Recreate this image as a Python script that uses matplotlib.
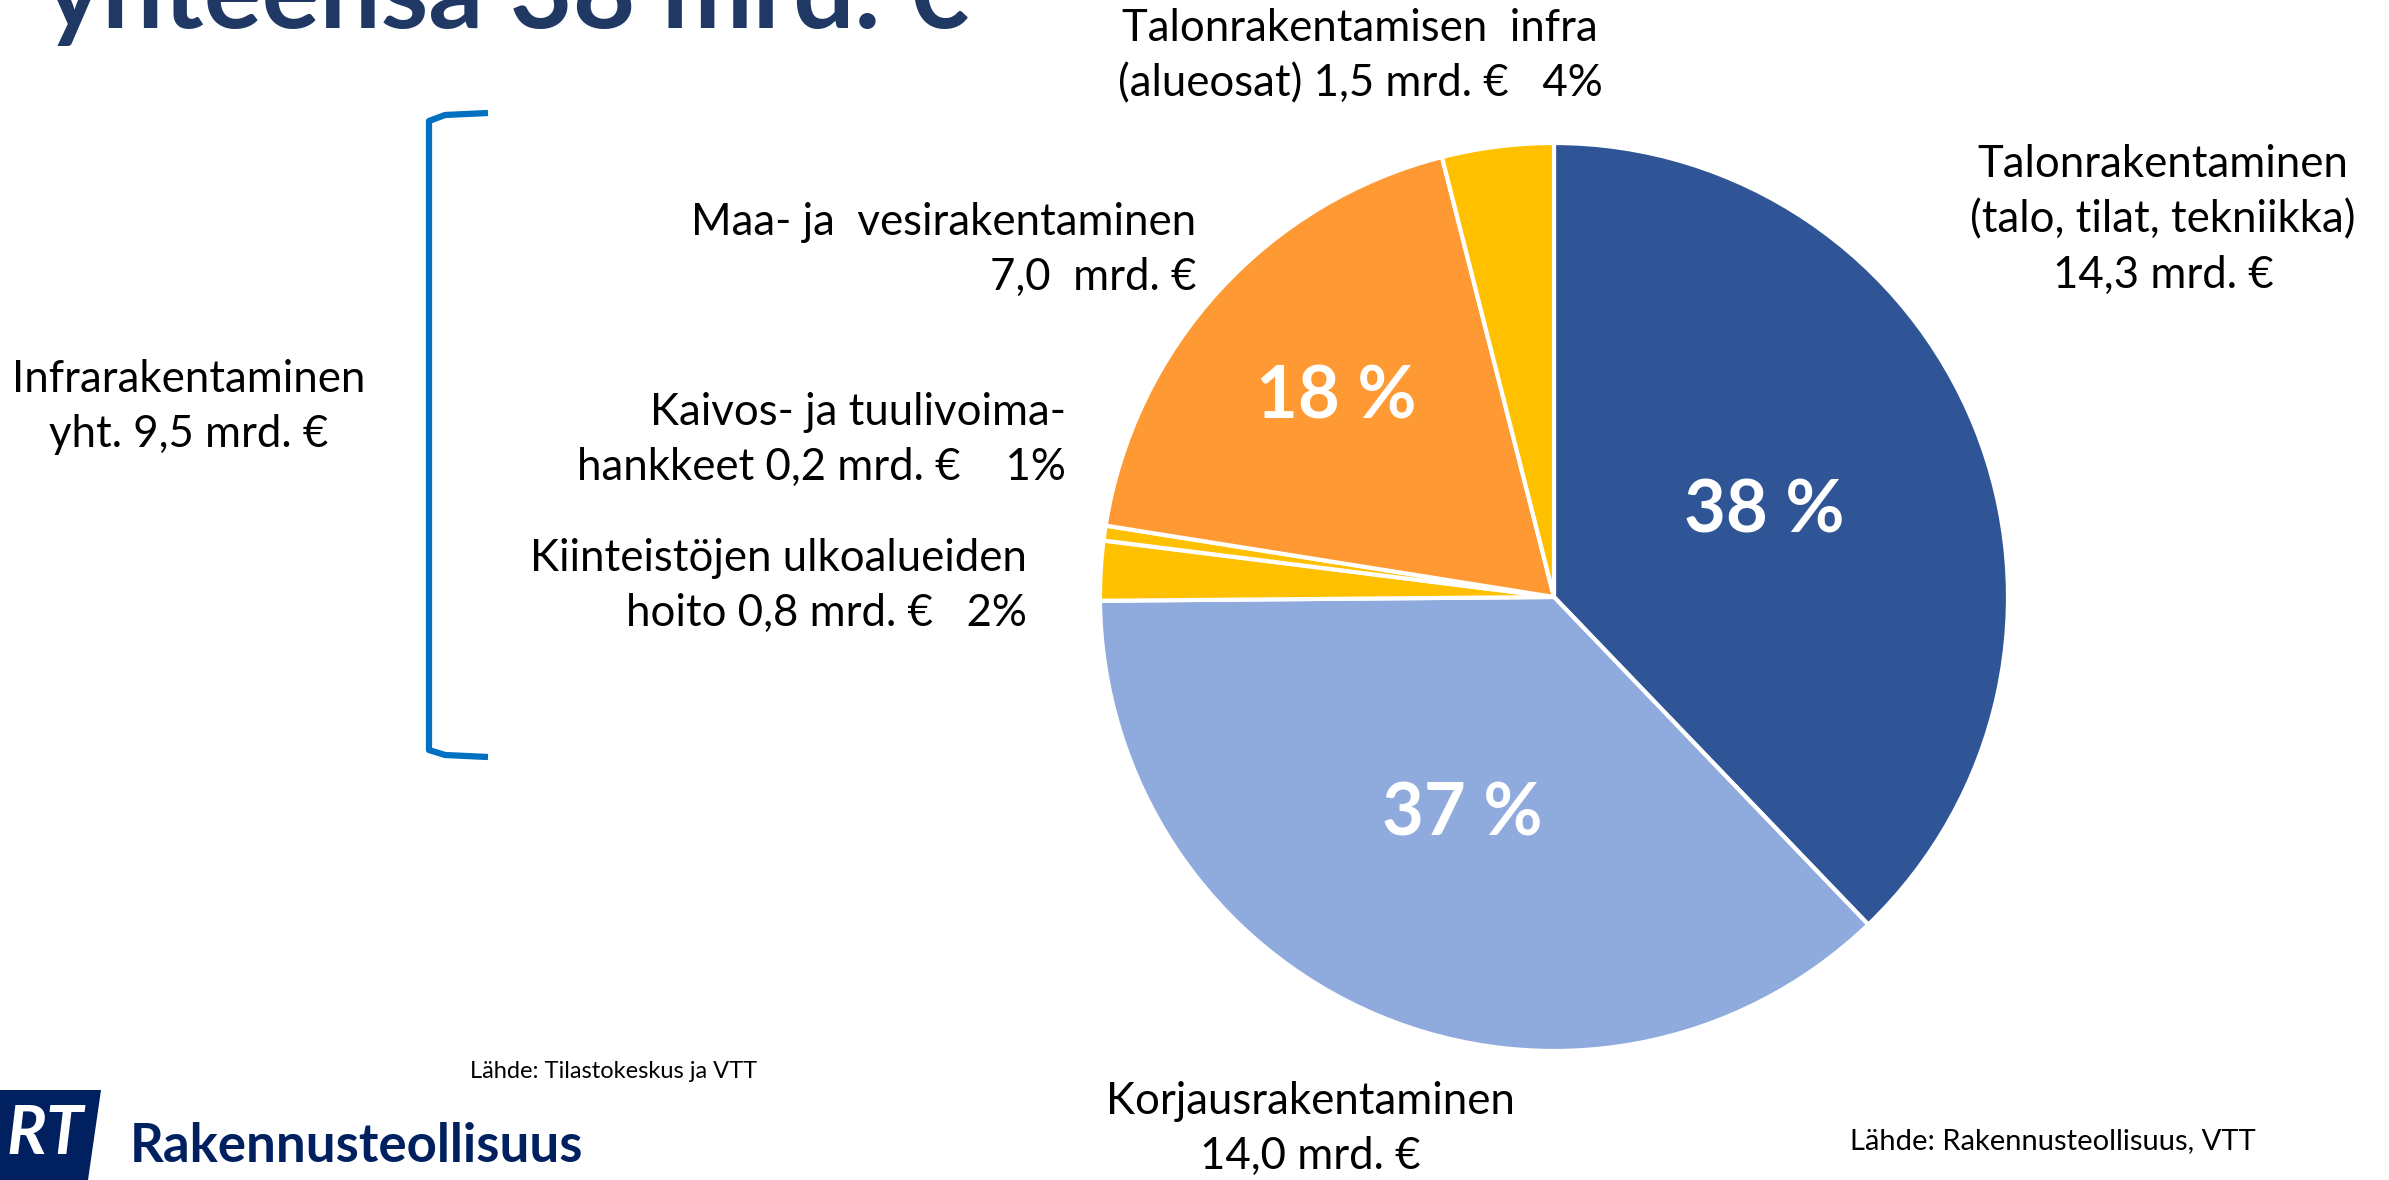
import matplotlib
matplotlib.use("Agg")
import matplotlib.pyplot as plt
import numpy as np
from matplotlib.patches import Polygon
from matplotlib.lines import Line2D

W, H = 2389, 1180
plt.rcParams['font.family'] = ['Lato', 'DejaVu Sans']

# data (mrd. €), clockwise from 12 o'clock
segments = ["Talonrakentaminen", "Korjausrakentaminen", "Kiinteistöjen ulkoalueiden hoito",
            "Kaivos- ja tuulivoimahankkeet", "Maa- ja vesirakentaminen", "Talonrakentamisen infra"]
values = [14.3, 14.0, 0.8, 0.2, 7.0, 1.5]
colors = ["#2F5597", "#8FAADC", "#FFC000", "#FFC000", "#FF9933", "#FFC000"]
pct_labels = ["38 %", "37 %", "", "", "18 %", ""]
pct_radius = [0.50, 0.52, 0, 0, 0.65, 0]

side_labels = [
    ("Talonrakentaminen\n(talo, tilat, tekniikka)\n14,3 mrd. €", 2163, 220, "center"),
    ("Korjausrakentaminen\n14,0 mrd. €", 1310, 1129, "center"),
    ("Kiinteistöjen ulkoalueiden\nhoito 0,8 mrd. €   2%", 1027, 586, "right"),
    ("Kaivos- ja tuulivoima-\nhankkeet 0,2 mrd. €    1%", 1066, 440, "right"),
    ("Maa- ja  vesirakentaminen\n7,0  mrd. €", 1196, 250, "right"),
    ("Talonrakentamisen  infra\n(alueosat) 1,5 mrd. €   4%", 1360, 56, "center"),
]

def fx(x):
    return x / W

def fy(y):
    return 1 - y / H

fig = plt.figure(figsize=(W / 100, H / 100), dpi=100)
fig.patch.set_facecolor("white")

cx, cy, r = 1554, 597, 454
ax = fig.add_axes([fx(cx - r), fy(cy + r), 2 * r / W, 2 * r / H])
wedges, _ = ax.pie(values, colors=colors, startangle=90, counterclock=False,
                   wedgeprops=dict(edgecolor="white", linewidth=3))
ax.set_xlim(-1, 1)
ax.set_ylim(-1, 1)
ax.set_aspect("equal")
ax.axis("off")

for w, lab, rad in zip(wedges, pct_labels, pct_radius):
    if not lab:
        continue
    ang = np.deg2rad((w.theta1 + w.theta2) / 2)
    ax.text(rad * np.cos(ang), rad * np.sin(ang), lab, ha="center", va="center",
            color="white", fontsize=52, fontweight="bold")

for txt, x, y, ha in side_labels:
    fig.text(fx(x), fy(y), txt, ha=ha, va="center", fontsize=31.5,
             linespacing=1.42, multialignment=ha)

fig.text(fx(189), fy(407), "Infrarakentaminen\nyht. 9,5 mrd. €", ha="center", va="center",
         fontsize=31.5, linespacing=1.42)

# bracket
bx = [488, 445, 429, 429, 445, 488]
by = [113, 115, 121, 750, 755, 757]
fig.add_artist(Line2D([fx(v) for v in bx], [fy(v) for v in by], color="#0070C0",
                      linewidth=4.5, solid_capstyle="butt", solid_joinstyle="round"))

# title (cut off at top, as in the slide)
fig.text(fx(45), fy(28), "yhteensä 38 mrd. €", ha="left", va="baseline",
         fontsize=78, fontweight="bold", color="#1F3864")

# sources
fig.text(fx(614), fy(1071), "Lähde: Tilastokeskus ja VTT", ha="center", va="center", fontsize=17)
fig.text(fx(2053), fy(1141), "Lähde: Rakennusteollisuus, VTT", ha="center", va="center", fontsize=21)

# logo
fig.add_artist(Polygon([(fx(0), fy(1090)), (fx(101), fy(1090)), (fx(88), fy(1180)), (fx(0), fy(1180))],
                       closed=True, facecolor="#002060", edgecolor="none", transform=fig.transFigure))
fig.text(fx(45), fy(1135), "RT", ha="center", va="center", fontsize=48, fontweight="bold",
         fontstyle="italic", color="white")
fig.text(fx(130), fy(1146), "Rakennusteollisuus", ha="left", va="center", fontsize=38,
         fontweight="bold", color="#002060")

fig.savefig("out.png", dpi=100, facecolor="white")
